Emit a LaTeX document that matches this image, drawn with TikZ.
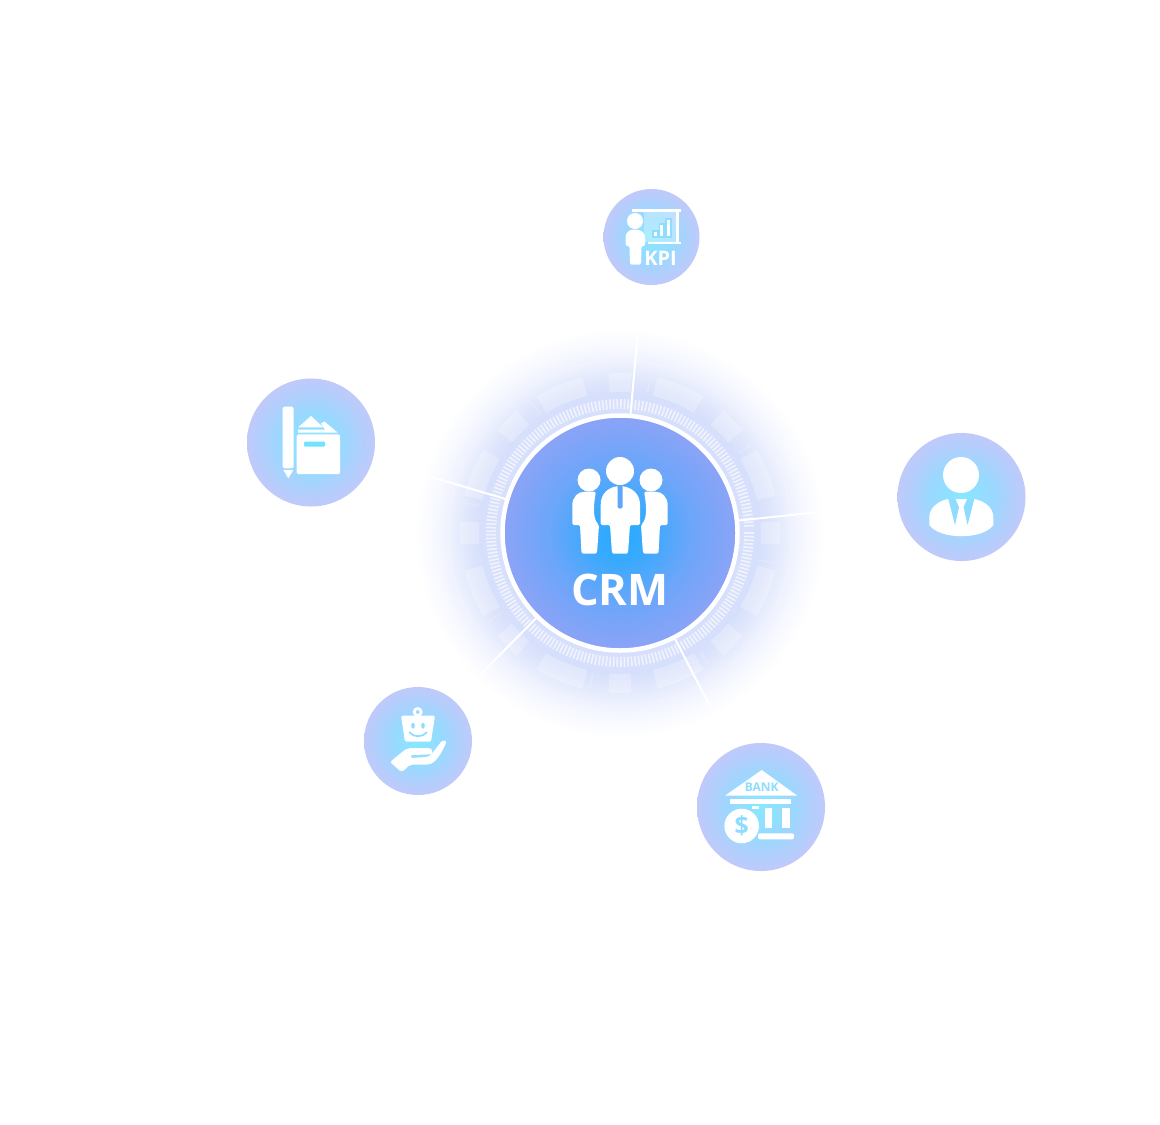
\documentclass[tikz,border=0pt]{standalone}
\usepackage{fontspec}
\setmainfont{Open Sans}
\definecolor{iconcyan}{HTML}{8EDCFF}
\definecolor{tieblue}{HTML}{5FA7FB}
\pgfdeclareradialshading{glowfill}{\pgfpoint{0bp}{0bp}}{rgb(0bp)=(0.84,0.875,0.985);rgb(17bp)=(0.84,0.875,0.985);rgb(18.3bp)=(0.865,0.895,0.988);rgb(20.7bp)=(0.93,0.945,0.995);rgb(22.6bp)=(0.97,0.975,1);rgb(25bp)=(1,1,1);rgb(50bp)=(1,1,1)}
\pgfdeclareradialshading{hubfill}{\pgfpoint{0bp}{0bp}}{rgb(0bp)=(0.16,0.67,1);rgb(6bp)=(0.22,0.665,0.995);rgb(15bp)=(0.42,0.65,0.98);rgb(25bp)=(0.55,0.64,0.965);rgb(50bp)=(0.55,0.64,0.965)}
\pgfdeclareradialshading{satfill}{\pgfpoint{0bp}{0bp}}{rgb(0bp)=(0.53,0.91,1);rgb(12bp)=(0.6,0.85,1);rgb(20bp)=(0.7,0.81,0.99);rgb(25bp)=(0.75,0.79,0.98);rgb(50bp)=(0.75,0.79,0.98)}
\tikzset{
    sat/.style={circle,inner sep=0pt,shading=satfill},
    spoke/.style={white,line width=2pt},
    tickmark/.style={white,opacity=0.65,line width=1.7pt},
    block/.style={white,opacity=0.25},
    icon/.style={fill=white,draw=none},
    iconcut/.style={fill=iconcyan,draw=none},
}
\begin{document}
\begin{tikzpicture}[x=1pt,y=-1pt]
    \useasboundingbox (0,0) rectangle (1160,1125);
    \fill[white] (0,0) rectangle (1160,1125);
    \node[circle,inner sep=0pt,minimum size=410pt,shading=glowfill] (halo) at (620,533) {};
    \begin{scope}[shift={(620,533)}]
        \foreach \a/\w in {0/4.2,45/5,90/4.2,135/5,180/4.2,225/5,270/4.2,315/5,22.5/9,67.5/9,112.5/9,157.5/9,202.5/9,247.5/9,292.5/9,337.5/9}
            \draw[block,line width=19pt] (\a-\w:150.5) arc[start angle=\a-\w,end angle=\a+\w,radius=150.5];
        \foreach \a in {11,56,101,146,191,236,281,326}
            \draw[block,line width=1pt] (\a:143) -- (\a:158);
        \draw[white,opacity=0.2,line width=1pt] (0,0) circle[radius=172];
        \foreach \a in {0,1.6,...,358.4}
            \draw[tickmark] (\a:124) -- (\a:134);
    \end{scope}
    \node[circle,inner sep=0pt,minimum size=235pt,shading=hubfill,draw=white,line width=4.5pt] (hub) at (620,533) {};
    \node[sat,minimum size=96pt] (kpi) at (651.5,237) {};
    \node[sat,minimum size=128pt] (notes) at (311,442.5) {};
    \node[sat,minimum size=108pt] (shop) at (418,741) {};
    \node[sat,minimum size=128pt] (bank) at (761,807) {};
    \node[sat,minimum size=128pt] (staff) at (961.5,497) {};
    \coordinate (kpiend) at (638,330);
    \coordinate (staffend) at (820,512);
    \coordinate (bankend) at (712,710);
    \coordinate (shopend) at (480,675);
    \coordinate (notesend) at (428,476);
    \draw[spoke] (hub) -- (kpiend);
    \draw[spoke] (hub) -- (staffend);
    \draw[spoke] (hub) -- (bankend);
    \draw[spoke] (hub) -- (shopend);
    \draw[spoke] (hub) -- (notesend);

    \fill[icon] (620,471) circle[radius=14];
    \fill[icon] (589,480) circle[radius=11.5];
    \fill[icon] (651,480) circle[radius=11.5];
    \fill[icon,rounded corners=1.5pt] (600.7,525) -- (600.7,506) .. controls (600.7,494) and (608,487) .. (620,486) .. controls (632,487) and (640,494) .. (640,506) -- (640,525) -- (630,525) -- (628,553.5) -- (612,553.5) -- (610,525) -- cycle;
    \fill[tieblue,rounded corners=2pt] (617.6,485) -- (622.6,485) -- (622.6,508.5) -- (617.6,508.5) -- cycle;
    \fill[icon,rounded corners=1.5pt] (572.3,525) -- (572.3,507) .. controls (572.3,497) and (578,492) .. (585,491.7) -- (596,491.7) .. controls (594,502) and (592,518) .. (599,525) -- (597,553.5) -- (581.5,553.5) -- (580,525) -- cycle;
    \fill[icon,rounded corners=1.5pt] (667.7,525) -- (667.7,507) .. controls (667.7,497) and (662,492) .. (655,491.7) -- (644,491.7) .. controls (646,502) and (648,518) .. (641,525) -- (643,553.5) -- (658.5,553.5) -- (660,525) -- cycle;
    \node[white,font=\bfseries\fontsize{43.5}{43.5}\selectfont,inner sep=0pt] (crmlabel) at (620,590) {CRM};

    \fill[icon] (635,221) circle[radius=8];
    \fill[icon,rounded corners=1.5pt] (625.5,246) -- (625.5,239) .. controls (625.5,233) and (629,229.5) .. (635,229.5) .. controls (641,229.5) and (645,233) .. (645,239) -- (645,246) -- (641.5,246) -- (641,264.5) -- (630,264.5) -- (629.5,246) -- cycle;
    \fill[icon] (631.7,209) rectangle (681,211.7);
    \fill[icon] (676,211) rectangle (678.7,242);
    \fill[icon] (648,241.7) rectangle (681,244.3);
    \fill[white,opacity=0.3] (644,211.7) rectangle (676,241.7);
    \fill[iconcut] (651.5,230) rectangle (658.5,238);
    \fill[iconcut] (658.5,223) rectangle (665,238);
    \fill[iconcut] (665,218) rectangle (671.5,238);
    \fill[icon] (653.5,232) rectangle (656.5,236);
    \fill[icon] (660.3,225) rectangle (663.2,236);
    \fill[icon] (667,220) rectangle (669.7,236);
    \node[white,font=\bfseries\fontsize{20}{20}\selectfont,inner sep=0pt] (kpilabel) at (660.5,258) {KPI};

    \fill[icon,rounded corners=1.5pt] (282.7,468.3) -- (282.7,406.7) -- (293.7,406.7) -- (293.7,468.3) -- cycle;
    \fill[icon] (283.3,470) -- (293.3,470) -- (288.3,478.3) -- cycle;
    \fill[icon,rounded corners=1.5pt] (296.7,434.3) -- (340,434.3) -- (340,474) -- (296.7,474) -- cycle;
    \fill[icon] (298.3,427.3) -- (311,416) -- (323.3,427.3) -- cycle;
    \fill[icon] (298,429.5) -- (325,429.5) -- (321,423.5) -- (324.5,421.5) -- (337.5,432.5) -- (298,432.5) -- cycle;
    \fill[iconcyan!80!cyan,rounded corners=1pt] (304,441.7) rectangle (325,446.7);

    \fill[icon,even odd rule] (417.7,712) circle[radius=5] (417.7,712) circle[radius=2];
    \fill[icon,rounded corners=1.5pt] (401,715.7) -- (435,715.7) -- (431,741.7) -- (405,741.7) -- cycle;
    \fill[iconcut] (413,725.7) ellipse[x radius=1.8,y radius=3];
    \fill[iconcut] (423,725.7) ellipse[x radius=1.8,y radius=3];
    \draw[iconcyan,line width=1.8pt,line cap=round] (409.5,732.3) .. controls (413,737.5) and (423,737.5) .. (426.7,732.3);
    \fill[icon,rounded corners=2pt] (390,762) -- (404,750.5) .. controls (408,748) and (412,748) .. (415,748) -- (428,748) .. controls (433,749) and (433,754) .. (428,754.5) -- (410.7,755) -- (410.7,758) -- (426.7,757) .. controls (432,755) and (438,745) .. (443.3,739.7) -- (446.7,741.3) .. controls (443,750) and (437,762) .. (428,764.7) -- (410,764.7) -- (401.7,772.3) -- cycle;

    \fill[icon] (761.7,770) -- (797.3,795.7) -- (725,795.7) -- cycle;
    \node[iconcyan,font=\bfseries\fontsize{12}{12}\selectfont,inner sep=0pt] (banklabel) at (761.7,787.3) {BANK};
    \fill[icon] (730,799.3) rectangle (790.7,803.7);
    \fill[icon] (752,805.5) rectangle (759,808.5);
    \fill[icon] (765,808.3) rectangle (772.3,828.3);
    \fill[icon] (781.7,808.3) rectangle (790,828.3);
    \fill[icon,rounded corners=2pt] (758,833.3) rectangle (794,839.3);
    \fill[icon] (741.7,826) circle[radius=17.3];
    \node[iconcyan,font=\bfseries\fontsize{25}{25}\selectfont,inner sep=0pt] (coinlabel) at (741.7,826) {\$};

    \fill[icon] (961,475) circle[radius=18];
    \fill[icon] (929.3,525) -- (929.3,517) .. controls (929.3,508) and (938,501) .. (948,499) -- (974,499) .. controls (985,501) and (993.3,508) .. (993.3,517) -- (993.3,525) .. controls (983,540) and (940,540) .. (929.3,525) -- cycle;
    \fill[iconcut] (948.3,499) -- (955,525) -- (959,507.3) -- (955.5,499) -- cycle;
    \fill[iconcut] (974.3,499) -- (967.6,525) -- (963.6,507.3) -- (967.1,499) -- cycle;
\end{tikzpicture}
\end{document}
